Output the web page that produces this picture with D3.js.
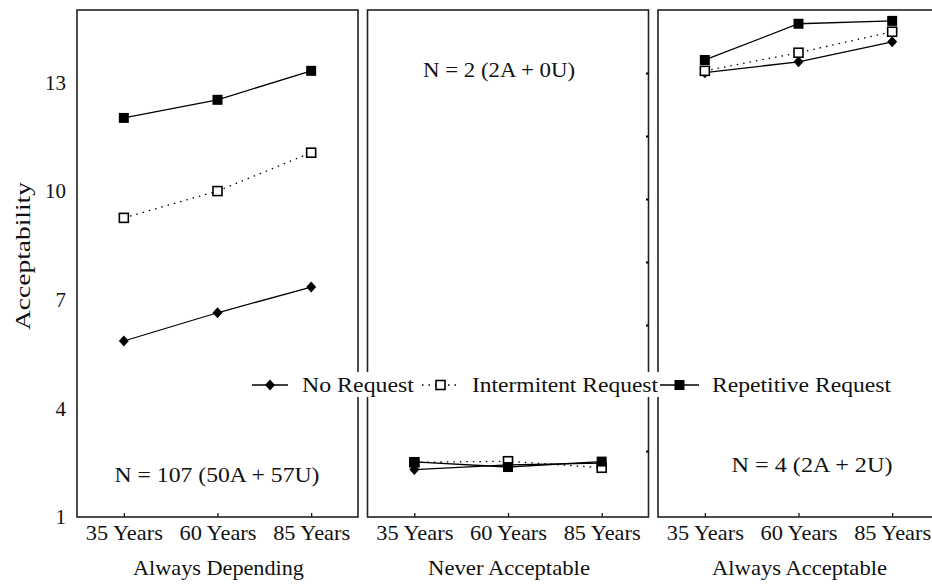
<!DOCTYPE html>
<html>
<head>
<meta charset="utf-8">
<script src="https://cdn.jsdelivr.net/npm/d3@7"></script>
<style>
  html, body { margin: 0; padding: 0; background: #fff; }
  svg { display: block; }
  text { font-family: "Liberation Serif", "Times New Roman", serif; fill: #111; }
</style>
</head>
<body>
<svg id="chart" width="932" height="585"></svg>
<script>
// ---- data ----
const categories = ["35 Years", "60 Years", "85 Years"];
const panels = ["Always Depending", "Never Acceptable", "Always Acceptable"];
const nLabels = ["N = 107 (50A + 57U)", "N = 2 (2A + 0U)", "N = 4 (2A + 2U)"];
const seriesNames = ["No Request", "Intermitent Request", "Repetitive Request"];
const noRequest = [[5.86, 6.64, 7.35], [2.31, 2.44, 2.49], [13.27, 13.57, 14.12]];
const intermittentRequest = [[9.26, 10.0, 11.06], [2.51, 2.54, 2.36], [13.32, 13.82, 14.40]];
const repetitiveRequest = [[12.02, 12.52, 13.32], [2.52, 2.38, 2.53], [13.62, 14.62, 14.70]];
const yTicks = [1, 4, 7, 10, 13];

// ---- layout ----
const svg = d3.select("#chart");
const plotTop = 10, plotBottom = 517;
const panelX = d3.scaleLinear().domain([0, 1]).range([77, 367.5]); // left edge of panel i
const panelW = 281;
const y = d3.scaleLinear().domain([1, 15]).range([plotBottom, plotTop]);

const series = [
  { name: seriesNames[0], vals: noRequest, dash: null, marker: "diamond" },
  { name: seriesNames[1], vals: intermittentRequest, dash: "1.5,5", marker: "open" },
  { name: seriesNames[2], vals: repetitiveRequest, dash: null, marker: "filled" }
];

function drawMarker(g, type, cx, cy) {
  if (type === "diamond") {
    g.append("path")
      .attr("d", `M${cx},${cy - 5.5}L${cx + 5},${cy}L${cx},${cy + 5.5}L${cx - 5},${cy}Z`)
      .attr("fill", "#000");
  } else if (type === "open") {
    g.append("rect").attr("x", cx - 4.5).attr("y", cy - 4.5).attr("width", 9).attr("height", 9)
      .attr("fill", "#fff").attr("stroke", "#000").attr("stroke-width", 1.6);
  } else {
    g.append("rect").attr("x", cx - 5).attr("y", cy - 5).attr("width", 10).attr("height", 10)
      .attr("fill", "#000");
  }
}

function label(g, txt, x, yy, w, anchor) {
  const t = g.append("text").attr("x", x).attr("y", yy).attr("font-size", 21)
    .attr("text-anchor", anchor || "middle").text(txt);
  if (w) t.attr("textLength", w).attr("lengthAdjust", "spacingAndGlyphs");
  return t;
}

const titleW = [171, 162, 175];
const nW = [205, 152, 161];
const nPos = [[217, 482], [499, 77], [812, 472]];

panels.forEach((p, i) => {
  const x0 = panelX(i);
  const x = d3.scalePoint().domain(categories).range([x0, x0 + panelW]).padding(0.5);
  const g = svg.append("g");

  // bottom axis (inward ticks)
  const ax = g.append("g").attr("transform", `translate(0,${plotBottom})`)
    .call(d3.axisBottom(x).tickSizeInner(-4).tickSizeOuter(0).tickPadding(8));
  ax.select(".domain").remove();
  ax.selectAll(".tick line").attr("stroke", "#000").attr("stroke-width", 1.2);
  ax.selectAll(".tick text").attr("font-size", 21).attr("fill", "#111")
    .attr("font-family", '"Liberation Serif", serif')
    .attr("textLength", 77).attr("lengthAdjust", "spacingAndGlyphs");

  // panel frame
  g.append("rect").attr("x", x0).attr("y", plotTop).attr("width", panelW).attr("height", plotBottom - plotTop)
    .attr("fill", "none").attr("stroke", "#222").attr("stroke-width", 1.6);

  // series
  series.forEach(s => {
    const vals = s.vals[i];
    const line = d3.line().x((d, k) => x(categories[k])).y(d => y(d));
    g.append("path").attr("d", line(vals)).attr("fill", "none")
      .attr("stroke", "#000").attr("stroke-width", 1.3)
      .attr("stroke-dasharray", s.dash);
  });
  series.forEach(s => {
    s.vals[i].forEach((v, k) => drawMarker(g, s.marker, x(categories[k]), y(v)));
  });

  // titles and N labels
  label(svg, p, x0 + panelW / 2 + 1, 575, titleW[i]);
  label(svg, nLabels[i], nPos[i][0], nPos[i][1], nW[i]);
});

// y axis labels (left panel)
const yAx = svg.append("g").attr("transform", `translate(${panelX(0)},0)`)
  .call(d3.axisLeft(y).tickValues(yTicks).tickSize(0).tickPadding(11));
yAx.select(".domain").remove();
yAx.selectAll(".tick text").attr("font-size", 21).attr("fill", "#111")
  .attr("font-family", '"Liberation Serif", serif');

// small inward ticks on right edge of middle panel
const yMinor = d3.scaleLinear().domain([0, 8]).range([514, 10]);
const minor = svg.append("g").attr("transform", `translate(${panelX(1) + panelW},0)`)
  .call(d3.axisLeft(yMinor).tickValues(d3.range(1, 8)).tickSize(2.5).tickFormat(""));
minor.select(".domain").remove();
minor.selectAll(".tick line").attr("stroke", "#000").attr("stroke-width", 2);

// y axis title
svg.append("text").attr("transform", "translate(30,256) rotate(-90)")
  .attr("text-anchor", "middle").attr("font-size", 21)
  .attr("textLength", 148).attr("lengthAdjust", "spacingAndGlyphs")
  .text("Acceptability");

// legend
const legend = svg.append("g");
legend.append("rect").attr("x", 246).attr("y", 372).attr("width", 650).attr("height", 25).attr("fill", "#fff");
const legItems = [
  { x1: 252, x2: 288, tx: 302, tw: 112 },
  { x1: 422, x2: 459, tx: 472, tw: 186 },
  { x1: 660, x2: 699, tx: 712, tw: 179 }
];
const ly = 385;
series.forEach((s, i) => {
  const it = legItems[i];
  legend.append("line").attr("x1", it.x1).attr("x2", it.x2).attr("y1", ly).attr("y2", ly)
    .attr("stroke", "#000").attr("stroke-width", 1.3).attr("stroke-dasharray", s.dash);
  drawMarker(legend, s.marker, (it.x1 + it.x2) / 2, ly);
  label(legend, s.name, it.tx, ly + 7, it.tw, "start");
});
</script>
</body>
</html>
